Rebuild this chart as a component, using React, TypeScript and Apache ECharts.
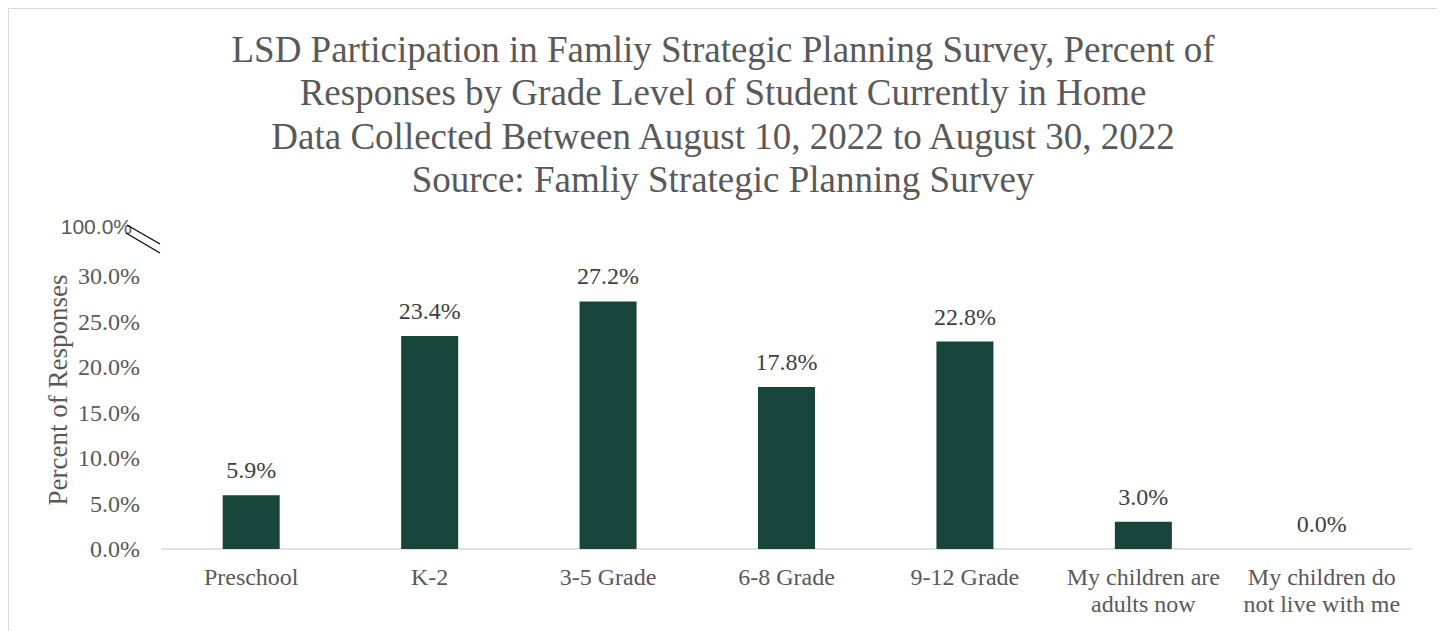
import React, { useEffect, useRef } from "react";
import * as echarts from "echarts";

const categories = [
  "Preschool",
  "K-2",
  "3-5 Grade",
  "6-8 Grade",
  "9-12 Grade",
  "My children are\nadults now",
  "My children do\nnot live with me",
];
const values = [5.9, 23.4, 27.2, 17.8, 22.8, 3.0, 0.0];
const breakTickLabel = "100.0%";
const titleLines = [
  "LSD Participation in Famliy Strategic Planning Survey, Percent of",
  "Responses by Grade Level of Student Currently in Home",
  "Data Collected Between August 10, 2022 to August 30, 2022",
  "Source: Famliy Strategic Planning Survey",
];
const yAxisName = "Percent of Responses";

const FONT = "'Liberation Serif', 'Times New Roman', serif";

export default function App() {
  const ref = useRef<HTMLDivElement>(null);
  useEffect(() => {
    if (!ref.current) return;
    const chart = echarts.init(ref.current, null, { renderer: "svg" });
    chart.setOption({
      animation: false,
      backgroundColor: "#ffffff",
      title: {
        text: titleLines.join("\n"),
        left: "center",
        top: 14,
        textStyle: {
          fontFamily: FONT,
          fontSize: 37,
          fontWeight: "normal",
          color: "#595959",
          lineHeight: 43.3,
        },
      },
      grid: { left: 153, right: 26, top: 267, bottom: 98, containLabel: false },
      xAxis: {
        type: "category",
        data: categories,
        axisLine: { show: true, lineStyle: { color: "#d9d9d9", width: 1.5 } },
        axisTick: { show: false },
        axisLabel: {
          interval: 0,
          fontFamily: FONT,
          fontSize: 24,
          color: "#595959",
          lineHeight: 27,
          margin: 14,
        },
      },
      yAxis: {
        type: "value",
        min: 0,
        max: 30,
        interval: 5,
        splitLine: { show: false },
        axisLine: { show: false },
        axisTick: { show: false },
        axisLabel: {
          formatter: (v: number) => v.toFixed(1) + "%",
          fontFamily: FONT,
          fontSize: 24,
          color: "#595959",
          margin: 22,
        },
      },
      series: [
        {
          type: "bar",
          data: values,
          barWidth: 57,
          itemStyle: { color: "#18453B" },
          label: {
            show: true,
            position: "top",
            distance: 13,
            formatter: (p: any) => Number(p.value).toFixed(1) + "%",
            fontFamily: FONT,
            fontSize: 24,
            color: "#404040",
          },
        },
      ],
      graphic: [
        {
          type: "text",
          x: 49,
          y: 381,
          rotation: Math.PI / 2,
          style: {
            text: yAxisName,
            fontFamily: FONT,
            fontSize: 27,
            fill: "#595959",
            align: "center",
            verticalAlign: "middle",
          },
        },
        {
          type: "text",
          x: 123,
          y: 217,
          style: {
            text: breakTickLabel,
            fontFamily: "'Liberation Sans', Arial, sans-serif",
            fontSize: 21,
            fill: "#595959",
            align: "right",
            verticalAlign: "middle",
          },
        },
        {
          type: "line",
          shape: { x1: 118, y1: 216, x2: 151, y2: 235 },
          style: { stroke: "#000000", lineWidth: 1.2 },
        },
        {
          type: "line",
          shape: { x1: 117, y1: 224, x2: 151, y2: 244 },
          style: { stroke: "#000000", lineWidth: 1.2 },
        },
      ],
    });
    return () => chart.dispose();
  }, []);
  return (
    <div
      style={{
        width: 1430,
        height: 640,
        border: "1px solid #d9d9d9",
        boxSizing: "border-box",
      }}
    >
      <div ref={ref} style={{ width: 1428, height: 638 }} />
    </div>
  );
}
